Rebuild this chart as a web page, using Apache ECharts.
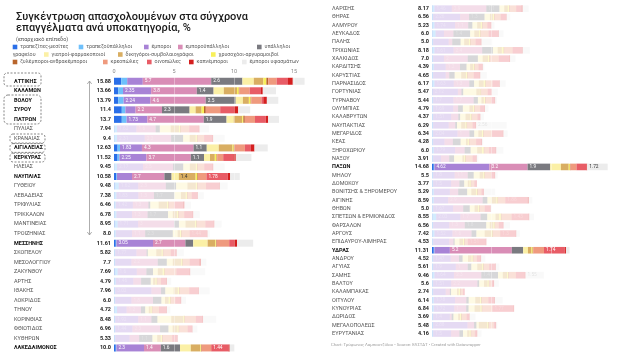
<!DOCTYPE html>
<html>
<head>
<meta charset="utf-8">
<script src="https://cdn.jsdelivr.net/npm/echarts@6/dist/echarts.min.js"></script>
<style>
  html, body { margin: 0; padding: 0; background: #fff; }
  #chart { width: 640px; height: 354px; }
</style>
</head>
<body>
<div id="chart"></div>
<script>
const categories = [
  "τραπεζίτες-μεσίτες", "τραπεζοϋπάλληλοι", "έμποροι", "εμποροϋπάλληλοι",
  "υπάλληλοι γραφείου", "γιατροί-φαρμακοποιοί", "δικηγόροι-συμβολαιογράφοι",
  "χρυσοχόοι-αργυραμοιβοί", "ξυλέμποροι-ανθρακέμποροι", "κρεοπώλες",
  "οινοπώλες", "καπνέμποροι", "έμποροι υφασμάτων"
];
const colors = [
  "#2a6fe8", "#6ec0fb", "#a883d6", "#d98db6", "#7a7a80", "#fbf0a6", "#d9ae62",
  "#f8f05a", "#b8652c", "#ef9a7e", "#e85c66", "#d41f1f", "#ececec"
];

// left column
const leftNames = [
  "ΑΤΤΙΚΗΣ", "ΚΑΛΑΜΩΝ", "ΒΟΛΟΥ", "ΣΥΡΟΥ", "ΠΑΤΡΩΝ", "ΠΥΛΙΑΣ", "ΚΡΑΝΑΙΑΣ",
  "ΑΙΓΙΑΛΕΙΑΣ", "ΚΕΡΚΥΡΑΣ", "ΗΛΕΙΑΣ", "ΝΑΥΠΛΙΑΣ", "ΓΥΘΕΙΟΥ", "ΛΕΒΑΔΕΙΑΣ",
  "ΤΡΙΦΥΛΙΑΣ", "ΤΡΙΚΚΑΛΩΝ", "ΜΑΝΤΙΝΕΙΑΣ", "ΤΡΟΙΖΗΝΙΑΣ", "ΜΕΣΣΗΝΗΣ", "ΣΚΟΠΕΛΟΥ",
  "ΜΕΣΟΛΟΓΓΙΟΥ", "ΖΑΚΥΝΘΟΥ", "ΑΡΤΗΣ", "ΙΘΑΚΗΣ", "ΛΟΚΡΙΔΟΣ", "ΤΗΝΟΥ",
  "ΚΟΡΙΝΘΙΑΣ", "ΦΘΙΩΤΙΔΟΣ", "ΚΥΘΗΡΩΝ", "ΛΑΚΕΔΑΙΜΟΝΟΣ"
];
const leftTotals = [
  15.88, 13.66, 13.79, 11.4, 13.7, 7.94, 9.4, 12.63, 11.52, 9.45, 10.58, 9.48,
  7.38, 6.46, 6.78, 8.95, 8.0, 11.61, 5.82, 7.7, 7.69, 4.79, 7.96, 6.0, 4.72,
  8.48, 6.96, 5.33, 10.0
];
const leftValues = [
  [0.6, 0.5, 1.3, 5.7, 2.6, 0.95, 0.8, 0.25, 0.15, 0.7, 0.95, 0.4, 0.98],
  [0.35, 0.4, 2.35, 3.8, 1.4, 0.85, 1.1, 0.15, 0.05, 0.85, 0.95, 0.15, 1.1],
  [0.35, 0.45, 2.24, 4.6, 2.5, 0.6, 0.5, 0.15, 0.05, 0.85, 0.15, 0.3, 0.95],
  [0.65, 0.3, 0.85, 2.2, 2.3, 0.5, 0.5, 0.2, 0.15, 1.2, 1.15, 0.35, 1.0],
  [0.65, 0.4, 1.73, 4.7, 1.9, 0.6, 0.7, 0.1, 0.12, 0.85, 0.9, 0.2, 0.9],
  [0.05, 0.2, 1.62, 1.6, 0.35, 0.9, 0.7, 0.1, 0.05, 0.7, 0.8, 0.05, 0.8],
  [0.05, 0.2, 2.31, 2.2, 1.0, 0.55, 0.5, 0.1, 0.05, 0.55, 0.7, 0.05, 0.95],
  [0.3, 0.2, 1.83, 4.3, 1.1, 1.0, 1.15, 0.1, 0.08, 0.85, 0.5, 0.3, 1.1],
  [0.3, 0.15, 2.25, 3.7, 1.1, 0.5, 0.4, 0.15, 0.05, 0.5, 0.85, 0.2, 1.3],
  [0.05, 0.2, 2.17, 2.5, 0.85, 0.55, 0.5, 0.1, 0.05, 0.55, 0.7, 0.05, 0.95],
  [0.2, 0.05, 1.25, 2.7, 0.6, 0.6, 1.4, 0.15, 0.05, 0.7, 1.78, 0.2, 0.8],
  [0.1, 0.3, 1.62, 2.3, 0.85, 0.95, 0.7, 0.1, 0.05, 0.7, 1.1, 0.05, 0.65],
  [0.05, 0.15, 1.83, 1.3, 1.7, 0.55, 0.4, 0.1, 0.05, 0.35, 0.45, 0.05, 0.5],
  [0.05, 0.1, 1.42, 1.3, 0.15, 0.7, 0.7, 0.1, 0.05, 0.45, 0.75, 0.1, 0.55],
  [0.05, 0.15, 1.3, 1.3, 1.7, 0.4, 0.35, 0.1, 0.05, 0.45, 0.7, 0.05, 0.55],
  [0.1, 0.2, 1.71, 3.0, 0.4, 0.55, 0.8, 0.1, 0.05, 0.7, 0.7, 0.05, 0.6],
  [0.05, 0.1, 1.35, 1.1, 2.3, 0.4, 0.2, 0.1, 0.05, 0.65, 1.44, 0.05, 0.2],
  [0.15, 0.05, 3.05, 2.7, 0.65, 1.2, 0.65, 0.05, 0.05, 1.05, 0.4, 0.25, 1.35],
  [0.05, 0.05, 1.77, 0.85, 0.1, 0.7, 0.45, 0.1, 0.05, 0.6, 0.45, 0.05, 0.6],
  [0.05, 0.05, 1.35, 2.2, 0.75, 0.5, 0.7, 0.1, 0.05, 0.55, 0.8, 0.15, 0.45],
  [0.1, 0.2, 1.6, 0.8, 0.55, 0.4, 0.4, 0.15, 0.05, 0.95, 1.1, 0.05, 1.25],
  [0.05, 0.1, 1.46, 0.65, 0.8, 0.2, 0.2, 0.1, 0.05, 0.3, 0.45, 0.05, 0.35],
  [0.05, 0.05, 3.02, 0.8, 0.35, 0.7, 0.35, 0.1, 0.05, 0.8, 0.75, 0.05, 0.9],
  [0.05, 0.05, 1.35, 1.8, 0.7, 0.3, 0.3, 0.15, 0.05, 0.35, 0.45, 0.05, 0.4],
  [0.05, 0.2, 0.8, 1.2, 0.35, 0.3, 0.15, 0.1, 0.05, 0.55, 0.6, 0.05, 0.3],
  [0.05, 0.05, 1.92, 1.1, 0.5, 1.15, 1.0, 0.1, 0.05, 0.9, 0.55, 0.05, 1.1],
  [0.05, 0.05, 1.44, 2.3, 0.7, 0.35, 0.4, 0.1, 0.05, 0.7, 0.35, 0.05, 0.4],
  [0.05, 0.05, 1.2, 0.8, 1.1, 0.4, 0.3, 0.1, 0.05, 0.8, 0.4, 0.05, 0.05],
  [0.15, 0.05, 2.3, 1.4, 1.6, 0.9, 0.8, 0.05, 0.05, 0.8, 1.44, 0.1, 0.4]
];

// right column
const rightNames = [
  "ΛΑΡΙΣΗΣ", "ΘΗΡΑΣ", "ΑΛΜΥΡΟΥ", "ΛΕΥΚΑΔΟΣ", "ΠΑΛΗΣ", "ΤΡΙΧΩΝΙΑΣ", "ΧΑΛΚΙΔΟΣ",
  "ΚΑΡΔΙΤΣΗΣ", "ΚΑΡΥΣΤΙΑΣ", "ΠΑΡΝΑΣΙΔΟΣ", "ΓΟΡΤΥΝΙΑΣ", "ΤΥΡΝΑΒΟΥ", "ΟΛΥΜΠΙΑΣ",
  "ΚΑΛΑΒΡΥΤΩΝ", "ΝΑΥΠΑΚΤΙΑΣ", "ΜΕΓΑΡΙΔΟΣ", "ΚΕΑΣ", "ΞΗΡΟΧΩΡΙΟΥ", "ΝΑΞΟΥ",
  "ΠΑΞΩΝ", "ΜΗΛΟΥ", "ΔΟΜΟΚΟΥ", "ΒΟΝΙΤΣΗΣ & ΞΗΡΟΜΕΡΟΥ", "ΑΙΓΙΝΗΣ", "ΘΗΒΩΝ",
  "ΣΠΕΤΣΩΝ & ΕΡΜΙΟΝΙΔΟΣ", "ΦΑΡΣΑΛΩΝ", "ΑΡΓΟΥΣ", "ΕΠΙΔΑΥΡΟΥ-ΛΙΜΗΡΑΣ", "ΥΔΡΑΣ",
  "ΑΝΔΡΟΥ", "ΑΓΥΙΑΣ", "ΣΑΜΗΣ", "ΒΑΛΤΟΥ", "ΚΑΛΑΜΠΑΚΑΣ", "ΟΙΤΥΛΟΥ", "ΚΥΝΟΥΡΙΑΣ",
  "ΔΩΡΙΔΟΣ", "ΜΕΓΑΛΟΠΟΛΕΩΣ", "ΕΥΡΥΤΑΝΙΑΣ"
];
const rightTotals = [
  8.17, 6.56, 5.23, 6.0, 5.0, 8.18, 7.0, 4.39, 4.65, 6.17, 5.47, 5.44, 4.79,
  4.37, 6.29, 6.34, 4.28, 6.0, 3.91, 14.68, 5.5, 3.77, 5.29, 8.59, 5.0, 8.55,
  6.56, 7.42, 4.53, 11.31, 4.52, 5.61, 9.46, 5.6, 2.74, 6.14, 6.84, 3.69, 5.48, 4.16
];
const rightValues = [
  [0.05, 0.15, 1.46, 2.9, 1.1, 0.4, 0.3, 0.1, 0.05, 0.55, 0.45, 0.1, 0.5],
  [0.05, 0.05, 2.26, 0.75, 1.3, 0.45, 0.25, 0.1, 0.05, 0.5, 0.45, 0.05, 0.3],
  [0.05, 0.15, 1.74, 1.1, 0.35, 0.4, 0.3, 0.1, 0.05, 0.4, 0.3, 0.05, 0.25],
  [0.05, 0.25, 0.7, 0.8, 1.4, 0.35, 0.4, 0.1, 0.05, 0.65, 0.8, 0.05, 0.4],
  [0.05, 0.05, 1.3, 0.3, 0.7, 0.3, 0.4, 0.1, 0.05, 0.4, 0.45, 0.05, 0.9],
  [0.05, 0.15, 1.61, 2.4, 0.9, 0.4, 0.35, 0.15, 0.05, 0.7, 0.8, 0.05, 0.6],
  [0.05, 0.05, 0.9, 2.0, 0.85, 0.4, 0.45, 0.1, 0.05, 0.75, 0.9, 0.05, 0.45],
  [0.05, 0.1, 1.0, 1.2, 0.55, 0.3, 0.25, 0.1, 0.05, 0.3, 0.3, 0.05, 0.15],
  [0.05, 0.05, 1.05, 0.3, 0.45, 0.55, 0.4, 0.1, 0.05, 0.5, 0.5, 0.05, 0.55],
  [0.05, 0.15, 1.63, 1.3, 0.4, 0.4, 0.4, 0.15, 0.05, 0.55, 0.55, 0.05, 0.5],
  [0.05, 0.0, 2.12, 0.3, 0.15, 1.1, 0.3, 0.05, 0.05, 0.55, 0.3, 0.05, 0.5],
  [0.05, 0.05, 1.7, 1.7, 0.35, 0.3, 0.2, 0.1, 0.05, 0.45, 0.3, 0.05, 0.15],
  [0.05, 0.05, 1.69, 0.4, 0.4, 0.55, 0.3, 0.1, 0.05, 0.45, 0.35, 0.05, 0.3],
  [0.05, 0.05, 1.51, 0.6, 0.15, 0.45, 0.4, 0.1, 0.05, 0.45, 0.2, 0.05, 0.3],
  [0.05, 0.05, 1.3, 0.55, 0.15, 0.35, 0.35, 0.1, 0.05, 0.45, 0.25, 0.05, 2.56],
  [0.05, 0.05, 2.04, 1.0, 0.4, 0.35, 0.3, 0.1, 0.05, 0.7, 0.9, 0.05, 0.35],
  [0.05, 0.05, 0.95, 0.7, 0.65, 0.45, 0.15, 0.1, 0.05, 0.55, 0.45, 0.05, 0.1],
  [0.05, 0.1, 1.79, 0.8, 0.5, 0.55, 0.4, 0.15, 0.05, 0.4, 0.55, 0.05, 0.6],
  [0.05, 0.05, 0.65, 0.7, 0.4, 0.7, 0.15, 0.1, 0.05, 0.55, 0.3, 0.05, 0.15],
  [0.15, 0.05, 4.62, 3.2, 1.9, 0.9, 0.65, 0.1, 0.05, 0.5, 0.85, 0.05, 1.72],
  [0.05, 0.05, 1.8, 1.1, 0.5, 0.5, 0.3, 0.1, 0.05, 0.5, 0.3, 0.05, 0.2],
  [0.05, 0.05, 1.5, 0.7, 0.4, 0.3, 0.15, 0.1, 0.05, 0.25, 0.2, 0.02, 0],
  [0.05, 0.1, 1.35, 0.7, 0.75, 0.35, 0.4, 0.1, 0.05, 0.3, 0.15, 0.05, 0.95],
  [0.05, 0.1, 1.2, 2.9, 0.4, 0.35, 0.4, 0.1, 0.05, 0.6, 1.88, 0.1, 0.3],
  [0.05, 0.05, 1.67, 0.85, 0.55, 0.4, 0.3, 0.1, 0.05, 0.4, 0.45, 0.05, 0.1],
  [0.05, 0.3, 2.03, 1.7, 0.55, 0.7, 0.3, 0.15, 0.05, 0.85, 1.43, 0.05, 0.4],
  [0.05, 0.05, 1.35, 1.3, 1.8, 0.3, 0.3, 0.1, 0.05, 0.3, 0.35, 0.05, 0.55],
  [0.05, 0.15, 1.52, 1.6, 0.4, 0.7, 0.55, 0.1, 0.05, 0.6, 1.3, 0.05, 0.3],
  [0.05, 0.05, 1.35, 0.35, 0.1, 0.4, 0.3, 0.1, 0.05, 0.25, 1.51, 0.05, 0],
  [0.15, 0.05, 1.3, 5.2, 0.95, 0.4, 0.3, 0.1, 0.05, 0.9, 1.74, 0.1, 0.3],
  [0.05, 0.05, 1.47, 0.7, 0.3, 0.45, 0.3, 0.1, 0.05, 0.3, 0.3, 0.05, 0.35],
  [0.05, 0.05, 1.9, 1.0, 0.3, 0.5, 0.4, 0.1, 0.05, 0.45, 0.5, 0.05, 0.3],
  [0.05, 0.15, 1.64, 2.3, 1.4, 0.4, 0.35, 0.1, 0.05, 0.6, 0.75, 0.05, 1.55],
  [0.05, 0.05, 1.51, 2.2, 0.15, 0.4, 0.3, 0.1, 0.05, 0.2, 0.15, 0.05, 0.4],
  [0.05, 0.05, 1.05, 0.35, 0.1, 0.5, 0.15, 0.1, 0.05, 0.2, 0.15, 0, 0],
  [0.05, 0.1, 1.78, 0.95, 0.2, 0.55, 0.4, 0.1, 0.05, 0.55, 0.5, 0.05, 0.65],
  [0.05, 0.1, 1.72, 1.0, 0.2, 0.5, 0.5, 0.1, 0.05, 0.85, 1.77, 0.05, 0],
  [0.05, 0.05, 1.4, 0.15, 0.15, 0.4, 0.15, 0.1, 0.05, 0.4, 0.2, 0.05, 0.5],
  [0.05, 0.05, 2.88, 0.55, 0.2, 0.2, 0.7, 0.1, 0.05, 0.4, 0.15, 0.05, 0.1],
  [0.05, 0.05, 1.5, 0.7, 0.3, 0.35, 0.2, 0.1, 0.05, 0.3, 0.15, 0.05, 0.35]
];

const highlighted = [
  "ΑΤΤΙΚΗΣ", "ΚΑΛΑΜΩΝ", "ΒΟΛΟΥ", "ΣΥΡΟΥ", "ΠΑΤΡΩΝ", "ΑΙΓΙΑΛΕΙΑΣ", "ΚΕΡΚΥΡΑΣ",
  "ΝΑΥΠΛΙΑΣ", "ΜΕΣΣΗΝΗΣ", "ΛΑΚΕΔΑΙΜΟΝΟΣ", "ΠΑΞΩΝ", "ΥΔΡΑΣ"
];

const FONT = 'Roboto, "Noto Sans", sans-serif';
// segments smaller than this get no value label
const minLabel = [99, 99, 1.4, 1, 1, 1.4, 1.4, 99, 99, 1.4, 1.3, 99, 1.4];
const darkLabel = [false, false, false, false, false, true, true, true, false, true, false, false, true];

const fmtTotal = v => Number.isInteger(v) ? v.toFixed(1) : String(v);

function buildSeries(values, names, panel) {
  return categories.map((cat, c) => ({
    name: cat,
    type: "bar",
    stack: "panel" + panel,
    xAxisIndex: panel,
    yAxisIndex: panel * 2,
    barWidth: panel ? 6.6 : 7,
    silent: true,
    itemStyle: { color: colors[c] },
    label: {
      position: "insideLeft",
      distance: 2,
      fontSize: 4.8,
      fontFamily: FONT,
      formatter: p => String(p.value)
    },
    data: values.map((row, r) => {
      const hi = highlighted.includes(names[r]);
      const v = row[c];
      let col;
      if (darkLabel[c]) col = hi ? "#333" : "rgba(0,0,0,0.3)";
      else col = hi ? "#fff" : "rgba(255,255,255,0.95)";
      return {
        value: v,
        itemStyle: { opacity: hi ? 1 : 0.3 },
        label: { show: v >= minLabel[c], color: col }
      };
    })
  }));
}

function yAxesFor(gridIndex, names, totals) {
  const base = {
    gridIndex,
    type: "category",
    data: names,
    inverse: true,
    position: "left",
    axisLine: { show: false },
    axisTick: { show: false }
  };
  return [
    Object.assign({}, base, {
      axisLabel: {
        interval: 0,
        align: "left",
        margin: 100,
        fontFamily: FONT,
        formatter: n => (highlighted.includes(n) ? "{b|" + n + "}" : "{n|" + n + "}"),
        rich: {
          b: { fontSize: 5.5, fontWeight: "bold", color: "#111", fontFamily: FONT },
          n: { fontSize: 5.5, color: "#555", fontFamily: FONT }
        }
      }
    }),
    Object.assign({}, base, {
      axisLabel: {
        interval: 0,
        align: "right",
        margin: 3,
        fontSize: 5.5,
        fontWeight: "bold",
        color: "#222",
        fontFamily: FONT,
        formatter: (n, i) => fmtTotal(totals[i])
      }
    })
  ];
}

function xAxisFor(gridIndex, showLabels) {
  return {
    gridIndex,
    type: "value",
    min: 0,
    max: 17,
    interval: 5,
    position: "top",
    z: 5,
    axisLine: { show: false },
    axisTick: { show: false },
    axisLabel: {
      show: showLabels,
      fontSize: 5.5,
      color: "#8a8a8a",
      margin: 2,
      fontFamily: FONT,
      formatter: v => (v <= 15 ? String(v) : "")
    },
    splitLine: {
      show: true,
      showMinLine: false,
      showMaxLine: false,
      lineStyle: { color: "rgba(255,255,255,0.5)", width: 0.7 }
    }
  };
}

// custom legend: wraps like the original (x positions per item)
const legendRows = [
  [[0, 12.7, 47], [1, 78.7, 47], [2, 144, 47], [3, 178, 47], [4, 257, 47]],
  [[5, 44, 54.5], [6, 118, 54.5], [7, 211, 54.5]],
  [[8, 12.7, 62], [9, 103, 62], [10, 147, 62], [11, 189, 62], [12, 242, 62]]
];
const legendGraphics = [];
legendRows.flat().forEach(([c, x, y]) => {
  legendGraphics.push({
    type: "rect",
    shape: { x: x, y: y - 2.3, width: 4.6, height: 4.6 },
    style: { fill: colors[c] }
  });
  legendGraphics.push({
    type: "text",
    x: x + 7.5,
    y: y,
    style: {
      text: c === 4 ? "υπάλληλοι" : categories[c],
      fontSize: 5.3,
      fontFamily: FONT,
      fill: "#606060",
      verticalAlign: "middle"
    }
  });
});
legendGraphics.push({
  type: "text",
  x: 12.7,
  y: 54.5,
  style: { text: "γραφείου", fontSize: 5.3, fontFamily: FONT, fill: "#606060", verticalAlign: "middle" }
});

const dashed = { fill: null, stroke: "#555", lineWidth: 0.7, lineDash: [2, 1.5] };
const annotations = [
  { type: "rect", shape: { x: 4, y: 73, width: 37, height: 13, r: 3 }, style: dashed },
  { type: "rect", shape: { x: 4, y: 95, width: 37, height: 29, r: 4 }, style: dashed },
  { type: "rect", shape: { x: 10, y: 134, width: 35, height: 9, r: 3 }, style: dashed },
  { type: "rect", shape: { x: 10, y: 143.6, width: 35, height: 8.8, r: 3 }, style: dashed },
  { type: "rect", shape: { x: 10, y: 153.2, width: 35, height: 8.8, r: 3 }, style: dashed },
  { type: "line", shape: { x1: 89.5, y1: 81, x2: 89.5, y2: 235 }, style: { stroke: "#999", lineWidth: 0.8 } },
  { type: "polyline", shape: { points: [[87.3, 84], [89.5, 81], [91.7, 84]] }, style: { stroke: "#999", lineWidth: 0.8, fill: null } },
  { type: "polyline", shape: { points: [[87.3, 232], [89.5, 235], [91.7, 232]] }, style: { stroke: "#999", lineWidth: 0.8, fill: null } },
  {
    type: "text",
    x: 331,
    y: 345,
    style: {
      text: "Chart: Τρύφωνας Λαμπουτζίδου • Source: ΕΛΣΤΑΤ • Created with Datawrapper",
      fontSize: 4.3,
      fontFamily: FONT,
      fill: "#a0a0a0",
      verticalAlign: "middle"
    }
  }
];

const chart = echarts.init(document.getElementById("chart"), null, { renderer: "canvas" });

const option = {
  animation: false,
  backgroundColor: "#fff",
  textStyle: { fontFamily: FONT },
  title: {
    text: "Συγκέντρωση απασχολουμένων στα σύγχρονα\nεπαγγέλματα ανά υποκατηγορία, %",
    subtext: "(επαρχιακό επίπεδο)",
    left: 11,
    top: 6,
    itemGap: 3,
    textStyle: { fontSize: 11, fontWeight: 500, color: "#1a1a1a", lineHeight: 11.5, fontFamily: FONT },
    subtextStyle: { fontSize: 5.5, color: "#555", fontFamily: FONT }
  },
  grid: [
    { left: 114, top: 76.5, width: 204, height: 276.2, outerBoundsMode: "none" },
    { left: 432, top: 4.5, width: 202.6, height: 333.2, outerBoundsMode: "none" }
  ],
  xAxis: [xAxisFor(0, true), xAxisFor(1, false)],
  yAxis: yAxesFor(0, leftNames, leftTotals).concat(yAxesFor(1, rightNames, rightTotals)),
  series: buildSeries(leftValues, leftNames, 0).concat(buildSeries(rightValues, rightNames, 1)),
  graphic: legendGraphics.concat(annotations)
};

chart.setOption(option);
</script>
</body>
</html>
